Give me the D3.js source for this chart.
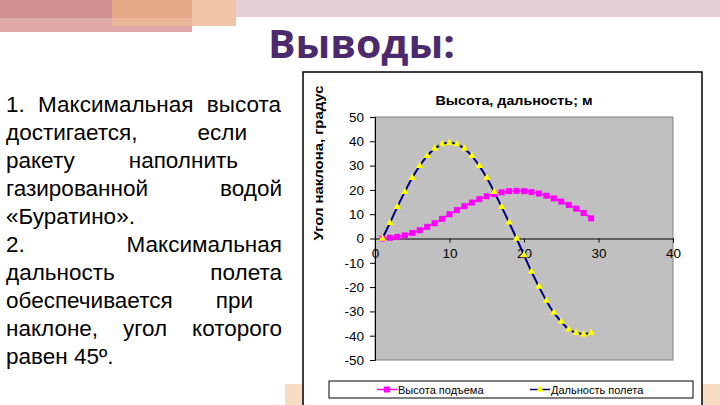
<!DOCTYPE html>
<html><head><meta charset="utf-8">
<script src="https://cdn.jsdelivr.net/npm/d3@7"></script>
<style>html,body{margin:0;padding:0;background:#fff;}svg{display:block;}</style>
</head><body>
<svg id="c" width="720" height="405"></svg>
<script>
// ---- data ----
const xValues = [1,2,3,4,5,6,7,8,9,10,11,12,13,14,15,16,17,18,19,20,21,22,23,24,25,26,27,28,29];
const heightSeries = [0,0.3,0.7,1.3,2.3,3.4,4.8,6.3,8.1,10.0,11.7,13.3,14.8,16.2,17.4,18.3,19.0,19.5,19.6,19.5,19.1,18.5,17.6,16.5,15.2,13.8,12.3,10.5,8.3];
const rangeSeries = [0,6.4,13.0,19.2,25.0,29.9,34.0,37.0,38.8,39.4,38.8,37.0,34.0,29.9,25.0,19.2,13.0,6.6,0,-6.8,-13.6,-19.8,-25.6,-30.5,-34.2,-37.4,-38.8,-39.4,-38.8];
const xTicks = [0,10,20,30,40];
const yTicks = [50,40,30,20,10,0,-10,-20,-30,-40,-50];
const seriesNames = ["Высота подъема","Дальность полета"];
const chartTitle = "Высота, дальность; м";
const yTitle = "Угол наклона, градус";
const slideTitle = "Выводы:";
const bodyLines = [
  {words:["1.","Максимальная","высота"], justify:true, right:281},
  {words:["достигается,","если"], justify:true, right:247},
  {words:["ракету","наполнить"], justify:true, right:238},
  {words:["газированной","водой"], justify:true, right:282},
  {words:["«Буратино»."], justify:false},
  {words:["2.","Максимальная"], justify:true, right:282},
  {words:["дальность","полета"], justify:true, right:282},
  {words:["обеспечивается","при"], justify:true, right:253},
  {words:["наклоне,","угол","которого"], justify:true, right:282},
  {words:["равен","45º."], justify:false}
];

const svg = d3.select("#c");

// ---- slide decorations ----
svg.append("rect").attr("x",236).attr("y",0).attr("width",484).attr("height",17).attr("fill","#e6ced8");
svg.append("rect").attr("x",0).attr("y",18).attr("width",192).attr("height",14).attr("fill","#e0a8a8");
svg.append("rect").attr("x",0).attr("y",0).attr("width",112).attr("height",18).attr("fill","#d09092");
svg.append("rect").attr("x",112).attr("y",0).attr("width",80).attr("height",18).attr("fill","#e4aa88");
svg.append("rect").attr("x",112).attr("y",18).attr("width",80).attr("height",8).attr("fill","#ecb69a");
svg.append("rect").attr("x",192).attr("y",0).attr("width",44).attr("height",26).attr("fill","#f0c4a4");
svg.append("rect").attr("x",285).attr("y",384).attr("width",435).attr("height",21).attr("fill","#f8dcc4");

svg.append("text").attr("x",268).attr("y",58).text(slideTitle)
  .attr("font-family","Open Sans, sans-serif").attr("font-weight","bold").attr("font-size",40)
  .attr("fill","#4b2a6e").attr("textLength",187).attr("lengthAdjust","spacingAndGlyphs");

// ---- body text ----
const bodyG = svg.append("g").attr("font-family","Liberation Sans, Arial, sans-serif").attr("font-size",22.5).attr("fill","#000");
bodyLines.forEach((ln,i)=>{
  const y = 112 + 28*i;
  const left = 6;
  if(!ln.justify){
    bodyG.append("text").attr("x",left).attr("y",y).text(ln.words.join(" "));
    return;
  }
  const nodes = ln.words.map(w=>bodyG.append("text").attr("y",y).text(w));
  const widths = nodes.map(n=>n.node().getComputedTextLength());
  const total = d3.sum(widths);
  const gap = (ln.right-left-total)/(ln.words.length-1);
  let x = left;
  nodes.forEach((n,k)=>{ n.attr("x",x); x += widths[k]+gap; });
});

// ---- chart box ----
svg.append("rect").attr("x",303).attr("y",72).attr("width",399).attr("height",340)
  .attr("fill","#fff").attr("stroke","#000").attr("stroke-width",1.5);

const plot = {l:375,r:673,t:117,b:360};
const x = d3.scaleLinear().domain([0,40]).range([plot.l,plot.r]);
const y = d3.scaleLinear().domain([-50,50]).range([plot.b,plot.t]);

svg.append("rect").attr("x",plot.l).attr("y",plot.t).attr("width",plot.r-plot.l).attr("height",plot.b-plot.t)
  .attr("fill","#c0c0c0").attr("stroke","#808080").attr("stroke-width",1);

const font = "Liberation Sans, Arial, sans-serif";
const fmt = d=>String(d);
// y axis
const yAxis = svg.append("g").attr("transform",`translate(${plot.l},0)`)
  .call(d3.axisLeft(y).tickValues(yTicks).tickSize(5).tickPadding(6).tickFormat(fmt));
yAxis.select(".domain").attr("stroke","#000");
yAxis.selectAll(".tick line").attr("stroke","#000");
yAxis.selectAll("text").attr("font-family",font).attr("font-size",13.5).attr("fill","#000");

// x axis at zero
const xAxis = svg.append("g").attr("transform",`translate(0,${y(0)})`)
  .call(d3.axisBottom(x).tickValues(xTicks).tickSize(4).tickPadding(6).tickFormat(fmt));
xAxis.select(".domain").attr("stroke","#000");
xAxis.selectAll(".tick line").attr("stroke","#000");
xAxis.selectAll("text").attr("font-family",font).attr("font-size",13.5).attr("fill","#000");

// titles
svg.append("text").attr("x",514).attr("y",104.5).attr("text-anchor","middle")
  .attr("font-family",font).attr("font-weight","bold").attr("font-size",13.5)
  .attr("textLength",157).attr("lengthAdjust","spacingAndGlyphs").text(chartTitle);
svg.append("text").attr("transform","translate(323,163) rotate(-90)").attr("text-anchor","middle")
  .attr("font-family",font).attr("font-weight","bold").attr("font-size",13.5)
  .attr("textLength",155).attr("lengthAdjust","spacingAndGlyphs").text(yTitle);

// series
const pts1 = xValues.map((v,i)=>[v,heightSeries[i]]);
const pts2 = xValues.map((v,i)=>[v,rangeSeries[i]]);
const line = d3.line().x(d=>x(d[0])).y(d=>y(d[1])).curve(d3.curveCatmullRom.alpha(0.5));

svg.append("path").datum(pts1).attr("d",line).attr("fill","none").attr("stroke","#ff00ff").attr("stroke-width",1.5);
svg.append("path").datum(pts2).attr("d",line).attr("fill","none").attr("stroke","#000080").attr("stroke-width",2);

svg.append("g").selectAll("rect").data(pts1).join("rect")
  .attr("x",d=>x(d[0])-3).attr("y",d=>y(d[1])-3).attr("width",6).attr("height",6).attr("fill","#ff00ff");
const tri = d3.symbol().type(d3.symbolTriangle).size(24);
svg.append("g").selectAll("path").data(pts2).join("path")
  .attr("transform",d=>`translate(${x(d[0])},${y(d[1])})`).attr("d",tri).attr("fill","#ffff00");

// legend
svg.append("rect").attr("x",329).attr("y",381).attr("width",364).attr("height",17)
  .attr("fill","#fff").attr("stroke","#000").attr("stroke-width",1);
const leg = [
  {lx:377, color:"#ff00ff", name:seriesNames[0], mark:"sq"},
  {lx:530, color:"#000080", name:seriesNames[1], mark:"tri"}
];
leg.forEach(L=>{
  svg.append("line").attr("x1",L.lx).attr("x2",L.lx+20).attr("y1",389.5).attr("y2",389.5)
    .attr("stroke",L.color).attr("stroke-width",1.5);
  if(L.mark==="sq") svg.append("rect").attr("x",L.lx+7).attr("y",386.5).attr("width",6).attr("height",6).attr("fill","#ff00ff");
  else svg.append("path").attr("transform",`translate(${L.lx+10},389.5)`).attr("d",tri).attr("fill","#ffff00");
  svg.append("text").attr("x",L.lx+21).attr("y",393.5).attr("font-family",font).attr("font-size",11).text(L.name);
});
</script>
</body></html>
